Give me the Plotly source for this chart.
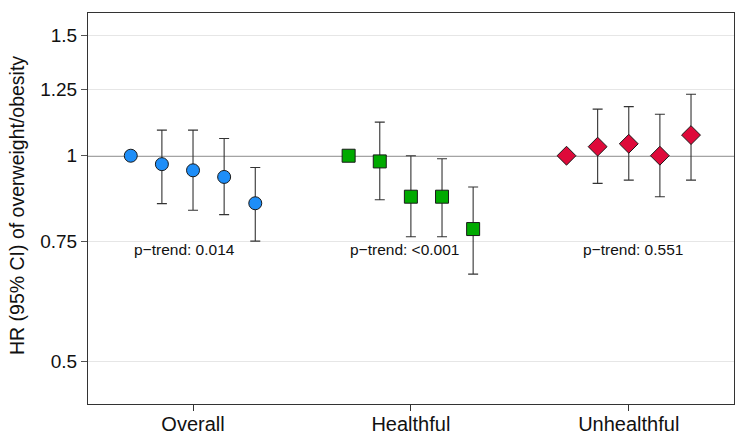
import math
import plotly.graph_objects as go

# ---- data ----
groups = ["Overall", "Healthful", "Unhealthful"]
quintile_offsets = [-2 / 7, -1 / 7, 0, 1 / 7, 2 / 7]

hr_overall = [1.00, 0.972, 0.952, 0.931, 0.852]
lo_overall = [None, 0.851, 0.832, 0.820, 0.750]
hi_overall = [None, 1.090, 1.090, 1.060, 0.961]

hr_healthful = [1.00, 0.981, 0.871, 0.871, 0.781]
lo_healthful = [None, 0.862, 0.761, 0.761, 0.671]
hi_healthful = [None, 1.120, 1.000, 0.990, 0.900]

hr_unhealthful = [1.00, 1.031, 1.041, 1.000, 1.072]
lo_unhealthful = [None, 0.911, 0.921, 0.871, 0.921]
hi_unhealthful = [None, 1.170, 1.180, 1.150, 1.230]

p_trend = ["0.014", "<0.001", "0.551"]
p_trend_y = 0.73

y_ticks = [0.5, 0.75, 1, 1.25, 1.5]
y_tick_labels = ["0.5", "0.75", "1", "1.25", "1.5"]

FONT = "Liberation Sans, Arial, Helvetica, sans-serif"

series = [
    (hr_overall, lo_overall, hi_overall, "circle", 13, "#1E8EF8"),
    (hr_healthful, lo_healthful, hi_healthful, "square", 13, "#00AA00"),
    (hr_unhealthful, lo_unhealthful, hi_unhealthful, "diamond", 14.5, "#DE0A3A"),
]

fig = go.Figure()
for gi, (hr, lo, hi, sym, size, col) in enumerate(series):
    xs = [gi + 1 + o for o in quintile_offsets]
    plus = [None if h is None else h - v for h, v in zip(hi, hr)]
    minus = [None if l is None else v - l for l, v in zip(lo, hr)]
    fig.add_trace(go.Scatter(
        x=xs, y=hr, mode="markers",
        marker=dict(symbol=sym, size=size, color=col,
                    line=dict(color="#1a1a1a", width=1)),
        error_y=dict(type="data", symmetric=False, array=plus, arrayminus=minus,
                     color="#333333", thickness=1.1, width=5),
        showlegend=False, hoverinfo="skip",
    ))

fig.add_shape(type="line", xref="paper", x0=0, x1=1, yref="y", y0=1, y1=1,
              line=dict(color="#4a4a4a", width=1.5), layer="below")

text_dx = [-0.04, -0.03, 0.02]
for gi, p in enumerate(p_trend):
    fig.add_annotation(x=gi + 1 + text_dx[gi], y=math.log10(p_trend_y),
                       xref="x", yref="y", text="p\u2212trend: " + p,
                       showarrow=False, font=dict(family=FONT, size=15.5, color="#111"))

fig.add_annotation(xref="paper", yref="paper", x=(17 - 88) / 646, y=(404 - 206) / 391,
                   text="HR (95% CI) of overweight/obesity", textangle=-90,
                   showarrow=False, xanchor="center", yanchor="middle",
                   font=dict(family=FONT, size=19.5, color="#111"))

fig.update_layout(
    width=747, height=443,
    margin=dict(l=88, r=13, t=13, b=39),
    paper_bgcolor="white", plot_bgcolor="white",
    font=dict(family=FONT, color="#111"),
    xaxis=dict(range=[0.518, 3.483], tickvals=[1, 2, 3], ticktext=groups,
               showgrid=False, zeroline=False, ticks="outside", ticklen=6,
               tickcolor="#333", tickfont=dict(size=20, color="#111"),
               ticklabelstandoff=-4,
               showline=True, linecolor="#333", linewidth=1, mirror=True,
               automargin=False),
    yaxis=dict(type="log", range=[-0.3634, 0.2089], tickvals=y_ticks,
               ticktext=y_tick_labels, showgrid=True, gridcolor="#E6E6E6",
               gridwidth=1, zeroline=False, ticks="outside", ticklen=6,
               tickcolor="#555", tickfont=dict(size=19, color="#111"),
               showline=True, linecolor="#333", linewidth=1, mirror=True,
               automargin=False),
)

fig.write_html("out.html", config={"displayModeBar": False},
               post_script="document.body.style.margin='0';document.body.style.overflow='hidden';")
